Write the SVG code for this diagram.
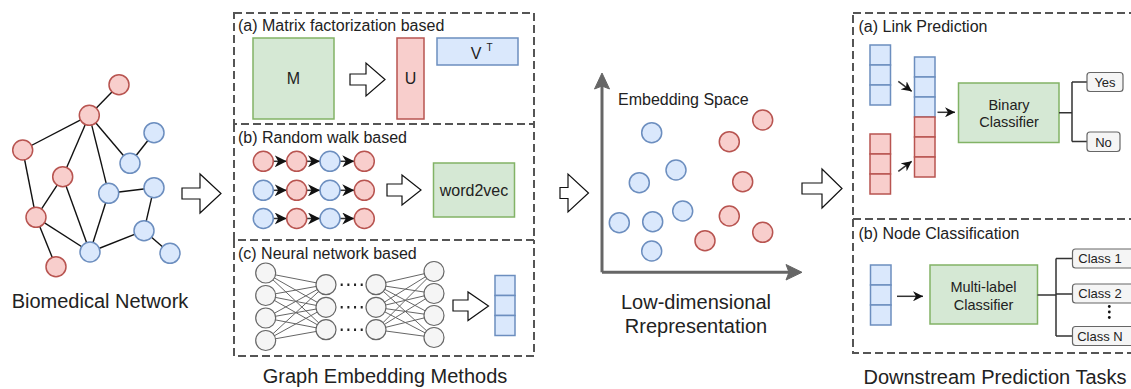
<svg xmlns="http://www.w3.org/2000/svg" width="1131" height="389" viewBox="0 0 1131 389">
<style>
text{font-family:"Liberation Sans",Arial,sans-serif;fill:#222}
.t16{font-size:16px}
.t20{font-size:20px}
.t15{font-size:14.5px}
.t13{font-size:13px}
.red{fill:#f8cecc;stroke:#b85450;stroke-width:1.5}
.blue{fill:#dae8fc;stroke:#6c8ebf;stroke-width:1.5}
.green{fill:#d5e8d4;stroke:#82b366;stroke-width:1.5}
.gray{fill:#f5f5f5;stroke:#666;stroke-width:1.2}
.dash{fill:none;stroke:#555;stroke-width:2;stroke-dasharray:8 4}
.blk{fill:#fff;stroke:#111;stroke-width:1.2}
.edge{stroke:#111;stroke-width:1.4;fill:none}
.nn{stroke:#666;stroke-width:1;fill:none}
.conn{stroke:#333;stroke-width:1.5;fill:none}
.lbl{fill:#f5f5f5;stroke:#666;stroke-width:1.2}
</style>
<defs>
<marker id="ah" markerUnits="userSpaceOnUse" markerWidth="11" markerHeight="10" refX="10" refY="5" orient="auto">
<path d="M0,0 L10,5 L0,10 L3,5 Z" fill="#111"/>
</marker>
<marker id="ahb" markerUnits="userSpaceOnUse" markerWidth="13" markerHeight="12" refX="12" refY="6" orient="auto">
<path d="M0,0 L12,6 L0,12 L3.5,6 Z" fill="#111"/>
</marker>
</defs>

<!-- Biomedical network -->
<g id="network">
<g class="edge">
<line x1="119" y1="84.7" x2="89.3" y2="115.3"/>
<line x1="89.3" y1="115.3" x2="22.7" y2="150"/>
<line x1="89.3" y1="115.3" x2="62.7" y2="176.7"/>
<line x1="89.3" y1="115.3" x2="130" y2="163.3"/>
<line x1="89.3" y1="115.3" x2="108.7" y2="193.3"/>
<line x1="22.7" y1="150" x2="36" y2="217.3"/>
<line x1="62.7" y1="176.7" x2="36" y2="217.3"/>
<line x1="62.7" y1="176.7" x2="90" y2="252"/>
<line x1="36" y1="217.3" x2="56" y2="266.7"/>
<line x1="36" y1="217.3" x2="90" y2="252"/>
<line x1="130" y1="163.3" x2="154" y2="132.7"/>
<line x1="108.7" y1="193.3" x2="154" y2="187.7"/>
<line x1="108.7" y1="193.3" x2="90" y2="252"/>
<line x1="154" y1="187.7" x2="144" y2="230.7"/>
<line x1="144" y1="230.7" x2="90" y2="252"/>
<line x1="144" y1="230.7" x2="170" y2="253.3"/>
</g>
<circle class="red" cx="119" cy="84.7" r="10"/>
<circle class="red" cx="89.3" cy="115.3" r="10"/>
<circle class="red" cx="22.7" cy="150" r="10"/>
<circle class="red" cx="62.7" cy="176.7" r="10"/>
<circle class="red" cx="36" cy="217.3" r="10"/>
<circle class="red" cx="56" cy="266.7" r="10"/>
<circle class="blue" cx="154" cy="132.7" r="10"/>
<circle class="blue" cx="130" cy="163.3" r="10"/>
<circle class="blue" cx="108.7" cy="193.3" r="10"/>
<circle class="blue" cx="154" cy="187.7" r="10"/>
<circle class="blue" cx="144" cy="230.7" r="10"/>
<circle class="blue" cx="170" cy="253.3" r="10"/>
<circle class="blue" cx="90" cy="252" r="10"/>
<text class="t20" x="100" y="308" text-anchor="middle">Biomedical Network</text>
</g>

<!-- big block arrows -->
<g id="connectors">
<polygon class="blk" points="182,188 200,188 200,174 221,193.5 200,213 200,199 182,199"/>
<polygon class="blk" points="560,187.5 568,187.5 568,174 588.5,193 568,212 568,198.5 560,198.5"/>
<polygon class="blk" points="802,183 822,183 822,169 842,188.5 822,208 822,194 802,194"/>
</g>

<!-- Panel (a) matrix factorization -->
<g id="panel-mf">
<rect class="dash" x="234" y="13" width="300" height="111"/>
<text class="t16" x="238" y="31">(a) Matrix factorization based</text>
<rect class="green" x="253" y="38" width="81" height="81"/>
<text class="t16" x="293.5" y="84" text-anchor="middle">M</text>
<polygon class="blk" points="350,74 366,74 366,63 385,79.5 366,96 366,85 350,85"/>
<rect class="red" x="397" y="38" width="27" height="81"/>
<text class="t16" x="410.5" y="84" text-anchor="middle">U</text>
<rect class="blue" x="437" y="38" width="81" height="27"/>
<text class="t16" x="476" y="58.5" text-anchor="middle">V</text>
<text x="489.5" y="51" text-anchor="middle" style="font-size:10px">T</text>
</g>

<!-- Panel (b) random walk -->
<g id="panel-rw">
<path class="dash" d="M234,124 V240 H534 V124"/>
<text class="t16" x="238" y="143">(b) Random walk based</text>
<g class="conn" marker-end="url(#ahb)">
<line x1="273.3" y1="161.3" x2="286.7" y2="161.3"/>
<line x1="306.7" y1="161.3" x2="320" y2="161.3"/>
<line x1="340" y1="161.3" x2="354.3" y2="161.3"/>
<line x1="273.3" y1="190.3" x2="286.7" y2="190.3"/>
<line x1="306.7" y1="190.3" x2="320" y2="190.3"/>
<line x1="340" y1="190.3" x2="354.3" y2="190.3"/>
<line x1="273.3" y1="218.5" x2="286.7" y2="218.5"/>
<line x1="306.7" y1="218.5" x2="320" y2="218.5"/>
<line x1="340" y1="218.5" x2="354.3" y2="218.5"/>
</g>
<circle class="red" cx="263.3" cy="161.3" r="10"/>
<circle class="red" cx="296.7" cy="161.3" r="10"/>
<circle class="blue" cx="330" cy="161.3" r="10"/>
<circle class="red" cx="364.3" cy="161.3" r="10"/>
<circle class="blue" cx="263.3" cy="190.3" r="10"/>
<circle class="red" cx="296.7" cy="190.3" r="10"/>
<circle class="blue" cx="330" cy="190.3" r="10"/>
<circle class="red" cx="364.3" cy="190.3" r="10"/>
<circle class="blue" cx="263.3" cy="218.5" r="10"/>
<circle class="red" cx="296.7" cy="218.5" r="10"/>
<circle class="blue" cx="330" cy="218.5" r="10"/>
<circle class="red" cx="364.3" cy="218.5" r="10"/>
<polygon class="blk" points="387,184 402,184 402,175 421,190 402,205 402,196 387,196"/>
<rect class="green" x="433.5" y="163" width="81" height="54"/>
<text class="t16" x="474" y="195.5" text-anchor="middle">word2vec</text>
</g>

<!-- Panel (c) neural network -->
<g id="panel-nn">
<path class="dash" d="M234,240 V356 H534 V240"/>
<text class="t16" x="238" y="259">(c) Neural network based</text>
<g class="nn">
<path d="M265.7,273 L326,284.7 M265.7,273 L326,307.3 M265.7,273 L326,329.7
M265.7,295.5 L326,284.7 M265.7,295.5 L326,307.3 M265.7,295.5 L326,329.7
M265.7,318 L326,284.7 M265.7,318 L326,307.3 M265.7,318 L326,329.7
M265.7,340.5 L326,284.7 M265.7,340.5 L326,307.3 M265.7,340.5 L326,329.7
M376,284.7 L434,271.5 M376,284.7 L434,293.5 M376,284.7 L434,315.5 M376,284.7 L434,337.5
M376,307.3 L434,271.5 M376,307.3 L434,293.5 M376,307.3 L434,315.5 M376,307.3 L434,337.5
M376,329.7 L434,271.5 M376,329.7 L434,293.5 M376,329.7 L434,315.5 M376,329.7 L434,337.5"/>
</g>
<circle class="gray" cx="265.7" cy="273" r="10"/>
<circle class="gray" cx="265.7" cy="295.5" r="10"/>
<circle class="gray" cx="265.7" cy="318" r="10"/>
<circle class="gray" cx="265.7" cy="340.5" r="10"/>
<circle class="gray" cx="326" cy="284.7" r="10"/>
<circle class="gray" cx="326" cy="307.3" r="10"/>
<circle class="gray" cx="326" cy="329.7" r="10"/>
<circle class="gray" cx="376" cy="284.7" r="10"/>
<circle class="gray" cx="376" cy="307.3" r="10"/>
<circle class="gray" cx="376" cy="329.7" r="10"/>
<circle class="gray" cx="434" cy="271.5" r="10"/>
<circle class="gray" cx="434" cy="293.5" r="10"/>
<circle class="gray" cx="434" cy="315.5" r="10"/>
<circle class="gray" cx="434" cy="337.5" r="10"/>
<g stroke="#222" stroke-width="2.4" stroke-dasharray="2 4.67">
<line x1="340.7" y1="284.7" x2="363" y2="284.7"/>
<line x1="340.7" y1="307.3" x2="363" y2="307.3"/>
<line x1="340.7" y1="329.7" x2="363" y2="329.7"/>
</g>
<polygon class="blk" points="453,300 468,300 468,292 488.5,306 468,320.5 468,311 453,311"/>
<rect class="blue" x="495" y="275.5" width="20" height="20"/>
<rect class="blue" x="495" y="295.5" width="20" height="20"/>
<rect class="blue" x="495" y="315.5" width="20" height="20"/>
<text class="t20" x="385" y="383" text-anchor="middle">Graph Embedding Methods</text>
</g>

<!-- Embedding space -->
<g id="embedding">
<g stroke="#666" stroke-width="3" fill="none">
<line x1="602" y1="272.3" x2="602" y2="86"/>
<line x1="602" y1="272.3" x2="789" y2="272.3"/>
</g>
<polygon points="602,73 609.5,89 602,86 594.5,89" fill="#666" stroke="#666" stroke-width="1"/>
<polygon points="802,272.3 786,264.5 789,272.3 786,280" fill="#666" stroke="#666" stroke-width="1"/>
<text class="t16" x="618" y="104.5">Embedding Space</text>
<circle class="blue" cx="651.7" cy="132.7" r="10"/>
<circle class="blue" cx="676" cy="170" r="10"/>
<circle class="blue" cx="639.3" cy="182.7" r="10"/>
<circle class="blue" cx="682.7" cy="211" r="10"/>
<circle class="blue" cx="619.3" cy="222.7" r="10"/>
<circle class="blue" cx="652.7" cy="221.7" r="10"/>
<circle class="blue" cx="651.7" cy="251" r="10"/>
<circle class="red" cx="762.7" cy="120" r="10"/>
<circle class="red" cx="729.3" cy="141.7" r="10"/>
<circle class="red" cx="742.7" cy="181.7" r="10"/>
<circle class="red" cx="729.3" cy="216" r="10"/>
<circle class="red" cx="762.7" cy="232.3" r="10"/>
<circle class="red" cx="705" cy="240.7" r="10"/>
<text class="t20" x="696" y="309" text-anchor="middle">Low-dimensional</text>
<text class="t20" x="696" y="333" text-anchor="middle">Rrepresentation</text>
</g>

<!-- Link prediction -->
<g id="panel-lp">
<rect class="dash" x="853" y="13" width="285" height="206"/>
<text class="t16" x="858.5" y="32">(a) Link Prediction</text>
<rect class="blue" x="870" y="45" width="20.5" height="20"/>
<rect class="blue" x="870" y="65" width="20.5" height="20"/>
<rect class="blue" x="870" y="85" width="20.5" height="20"/>
<rect class="red" x="870" y="134" width="20.5" height="20"/>
<rect class="red" x="870" y="154" width="20.5" height="20"/>
<rect class="red" x="870" y="174" width="20.5" height="20"/>
<rect class="blue" x="914.5" y="57" width="20.5" height="20"/>
<rect class="blue" x="914.5" y="77" width="20.5" height="20"/>
<rect class="blue" x="914.5" y="97" width="20.5" height="20"/>
<rect class="red" x="914.5" y="117" width="20.5" height="20"/>
<rect class="red" x="914.5" y="137" width="20.5" height="20"/>
<rect class="red" x="914.5" y="157" width="20.5" height="20"/>
<g class="conn" marker-end="url(#ah)">
<line x1="898.3" y1="81.3" x2="911.7" y2="91.3"/>
<line x1="898.3" y1="171.3" x2="911.7" y2="161.3"/>
<line x1="937.5" y1="112.3" x2="955" y2="112.3"/>
</g>
<rect class="green" x="958.5" y="83" width="100.5" height="59.5"/>
<text class="t15" x="1009" y="109.5" text-anchor="middle">Binary</text>
<text class="t15" x="1009" y="127" text-anchor="middle">Classifier</text>
<path class="conn" d="M1059,112.7 H1072 M1072,82 V141.5 M1072,82 H1087 M1072,141.5 H1087"/>
<rect class="lbl" x="1087" y="72.5" width="36" height="19" rx="3"/>
<text class="t13" x="1105" y="86.5" text-anchor="middle">Yes</text>
<rect class="lbl" x="1087" y="132" width="33" height="19.5" rx="3"/>
<text class="t13" x="1103.5" y="146.5" text-anchor="middle">No</text>
</g>

<!-- Node classification -->
<g id="panel-nc">
<path class="dash" d="M853,219 V353 H1138"/>
<text class="t16" x="858.5" y="238.5">(b) Node Classification</text>
<rect class="blue" x="870.5" y="265" width="20.5" height="20"/>
<rect class="blue" x="870.5" y="285" width="20.5" height="20"/>
<rect class="blue" x="870.5" y="305" width="20.5" height="20"/>
<line class="conn" x1="897" y1="296.3" x2="923" y2="296.3" marker-end="url(#ah)"/>
<rect class="green" x="930" y="265" width="107.5" height="59"/>
<text class="t15" x="983.5" y="292" text-anchor="middle">Multi-label</text>
<text class="t15" x="983.5" y="310" text-anchor="middle">Classifier</text>
<path class="conn" d="M1037.5,295 H1056 M1056,258.5 V336 M1056,258.5 H1072.5 M1056,294 H1072.5 M1056,336 H1072.5"/>
<rect class="lbl" x="1072.5" y="249" width="65" height="19" rx="3"/>
<text class="t13" x="1100" y="263" text-anchor="middle">Class 1</text>
<rect class="lbl" x="1072.5" y="284" width="65" height="19" rx="3"/>
<text class="t13" x="1100" y="298" text-anchor="middle">Class 2</text>
<rect class="lbl" x="1072.5" y="326.5" width="65" height="19" rx="3"/>
<text class="t13" x="1100" y="340.5" text-anchor="middle">Class N</text>
<g fill="#111">
<circle cx="1109.3" cy="306.5" r="1.4"/>
<circle cx="1109.3" cy="312" r="1.4"/>
<circle cx="1109.3" cy="317.5" r="1.4"/>
</g>
<text class="t20" x="995" y="383.5" text-anchor="middle">Downstream Prediction Tasks</text>
</g>
</svg>
